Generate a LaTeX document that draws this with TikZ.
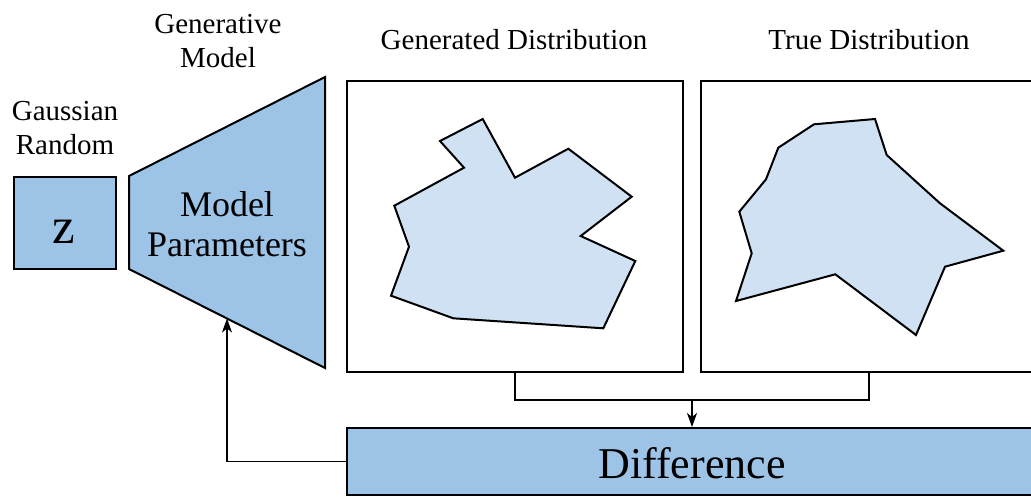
\documentclass[tikz,border=0pt]{standalone}
\usepackage{fontspec}
\setmainfont{Liberation Serif}
\usepackage{tikz}
\usetikzlibrary{calc,arrows.meta}
\definecolor{boxblue}{HTML}{9DC3E6}
\definecolor{shapeblue}{HTML}{CFE1F3}
\tikzset{
  blk/.style={draw=black, fill=boxblue, line width=2pt},
  panel/.style={draw=black, fill=white, line width=2pt, minimum width=336pt, minimum height=291pt, inner sep=0pt},
  blob/.style={draw=black, fill=shapeblue, line width=2pt, line join=miter},
  wire/.style={draw=black, line width=1.5pt},
  tip/.style={-{Stealth[length=14pt,width=10pt,inset=4pt]}},
  lab/.style={font=\fontsize{29}{34}\selectfont, align=center, inner sep=0pt},
  biglab/.style={font=\fontsize{36}{40}\selectfont, align=center, inner sep=0pt}
}

\begin{document}
\begin{tikzpicture}[x=1pt, y=-1pt]
  \useasboundingbox (0,0) rectangle (1031,496);
  \clip (0,0) rectangle (1031,496);

  % input noise
  \node[blk, minimum width=102pt, minimum height=92pt, inner sep=0pt] (z) at (65,223) {};
  \node[font=\fontsize{51}{51}\selectfont, anchor=base, inner sep=0pt] (zlab) at (64,243) {z};
  \node[lab] (gauss) at (65,128) {Gaussian\\Random};

  % generator
  \coordinate (ptl) at (129,176);
  \coordinate (ptr) at (325,77);
  \coordinate (pbr) at (325,368);
  \coordinate (pbl) at (129,269);
  \draw[blk, line join=miter] (ptl) -- (ptr) -- (pbr) -- (pbl) -- cycle;
  \node[biglab] (params) at (227,224) {Model\\Parameters};
  \node[lab] (genmodel) at (218,41) {Generative\\Model};

  % distributions
  \node[panel] (gen) at (515,226.5) {};
  \node[panel] (true) at (869,226.5) {};
  \node[lab, anchor=base] (genlab) at (514,49) {Generated Distribution};
  \node[lab, anchor=base] (truelab) at (869,49) {True Distribution};

  \draw[blob] (482.7,119) -- (515,177.7) -- (568.3,148.7) -- (631.7,196.7)
    -- (580.7,236) -- (635.3,261) -- (603.3,328.3) -- (453.3,318.3)
    -- (391,295.7) -- (409,246.7) -- (394.3,205.7) -- (464,167.7)
    -- (440,141) -- cycle;
  \draw[blob] (875,119) -- (886.7,155) -- (940,203.3) -- (1003.3,250.7)
    -- (945,266.7) -- (916,335) -- (835.3,274.3) -- (736,301)
    -- (751.7,253.3) -- (739.3,211.7) -- (766,179.3) -- (778.3,147.7)
    -- (814,124.3) -- cycle;

  % comparison
  \node[blk, minimum width=690pt, minimum height=67pt, inner sep=0pt] (diff) at (692,461.5) {};
  \node[font=\fontsize{44}{44}\selectfont, anchor=base, inner sep=0pt] (difflab) at (692,478) {Difference};

  \coordinate (join) at (692,400);
  \coordinate (fb) at ($(pbl)!0.5!(pbr)$);
  \draw[wire] (gen.south) |- (join) -| (true.south);
  \draw[wire, tip] (join) -- (diff.north);
  \draw[wire, tip] (diff.west) -| (fb);
\end{tikzpicture}
\end{document}
